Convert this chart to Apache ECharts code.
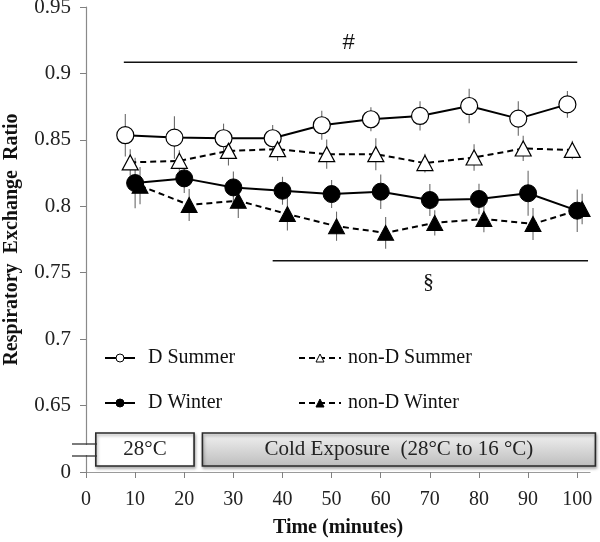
<!DOCTYPE html>
<html>
<head>
<meta charset="utf-8">
<script src="https://cdn.jsdelivr.net/npm/echarts@6/dist/echarts.min.js"></script>
<style>
html,body{margin:0;padding:0;background:#fff;}
#chart{width:600px;height:542px;}
</style>
</head>
<body>
<div id="chart"></div>
<script>
// ---- data ----
const xTickValues = [0, 10, 20, 30, 40, 50, 60, 70, 80, 90, 100];
const yTickLabels = ['0', '0.65', '0.7', '0.75', '0.8', '0.85', '0.9', '0.95'];

const dSummerX    = [8, 18, 28, 38, 48, 58, 68, 78, 88, 98];
const dSummerY    = [0.8535, 0.8517, 0.8512, 0.8512, 0.861, 0.8655, 0.868, 0.8755, 0.866, 0.8767];
const dSummerErr  = [0.016, 0.016, 0.011, 0.010, 0.011, 0.009, 0.011, 0.013, 0.013, 0.010];

const nonDSummerX   = [9, 19, 29, 39, 49, 59, 69, 79, 89, 99];
const nonDSummerY   = [0.833, 0.8342, 0.8417, 0.843, 0.8392, 0.8392, 0.8325, 0.8367, 0.8435, 0.8424];
const nonDSummerErr = [0.010, 0.008, 0.011, 0.009, 0.011, 0.012, 0.007, 0.010, 0.0095, 0.007];

const dWinterX   = [10, 20, 30, 40, 50, 60, 70, 80, 90, 100];
const dWinterY   = [0.8175, 0.821, 0.8142, 0.8117, 0.8092, 0.811, 0.8047, 0.8055, 0.8098, 0.7967];
const dWinterErr = [0.019, 0.011, 0.012, 0.0105, 0.0105, 0.013, 0.012, 0.0115, 0.017, 0.016];

const nonDWinterX   = [11, 21, 31, 41, 51, 61, 71, 81, 91, 101];
const nonDWinterY   = [0.8155, 0.801, 0.8042, 0.7942, 0.785, 0.780, 0.7875, 0.7905, 0.7867, 0.798];
const nonDWinterErr = [0.014, 0.012, 0.013, 0.0125, 0.011, 0.012, 0.0095, 0.010, 0.012, 0.0115];

const hashLine = [[7.7, 0.9085], [100, 0.9085]];
const sectLine = [[38, 0.759], [102.2, 0.759]];
const annotTexts = [[53.4, 0.9232, '#'], [69.7, 0.7432, '§']];

const phaseLabels = ['28°C', 'Cold Exposure  (28°C to 16 °C)'];
const phaseStart  = [2.0, 23.7];
const phaseEnd    = [22.0, 103.7];
const phaseLow    = 0.6045;
const phaseHigh   = 0.6293;

// ---- helpers ----
const FONT = "'Liberation Serif','Times New Roman',serif";
function pairs(xs, ys){ return xs.map((x,i)=>[x, ys[i]]); }
function errData(xs, ys, es){ return xs.map((x,i)=>[x, ys[i]-es[i], ys[i]+es[i]]); }

function renderErr(params, api){
  const x = api.value(0), lo = api.value(1), hi = api.value(2);
  const p1 = api.coord([x, lo]), p2 = api.coord([x, hi]);
  return {type:'line', shape:{x1:p1[0], y1:p1[1], x2:p2[0], y2:p2[1]},
          style:{stroke:'#6a6a6a', lineWidth:1.1}};
}
function errSeries(xs, ys, es){
  return {type:'custom', renderItem: renderErr, data: errData(xs, ys, es),
          encode:{x:0, y:[1,2]}, z:1, silent:true};
}

const phaseData = phaseLabels.map((l,i)=>[phaseStart[i], phaseEnd[i], phaseLow, phaseHigh, i]);

function renderPhase(params, api){
  const s = api.value(0), e = api.value(1), lo = api.value(2), hi = api.value(3);
  const idx = api.value(4);
  const label = phaseLabels[idx];
  const p1 = api.coord([s, hi]), p2 = api.coord([e, lo]);
  const fill = idx === 0 ? '#ffffff' : new echarts.graphic.LinearGradient(0,0,0,1,[
      {offset:0, color:'#f2f2f2'}, {offset:1, color:'#bdbdbd'}]);
  return {type:'group', children:[
    {type:'rect', shape:{x:p1[0], y:p1[1], width:p2[0]-p1[0], height:p2[1]-p1[1]},
     style:{fill: fill, stroke:'#2a2a2a', lineWidth:1.6,
            shadowBlur:3, shadowOffsetX:1, shadowOffsetY:2, shadowColor:'rgba(0,0,0,0.35)'}},
    {type:'text', style:{text: label, x:(p1[0]+p2[0])/2, y:(p1[1]+p2[1])/2,
     align:'center', verticalAlign:'middle', fill:'#222', font:"21px " + FONT}}
  ]};
}

function renderAnnot(params, api){
  const p = api.coord([api.value(0), api.value(1)]);
  const t = annotTexts[params.dataIndex][2];
  return {type:'text', style:{text:t, x:p[0], y:p[1], align:'center', verticalAlign:'middle',
          fill:'#111', font: (t === '#' ? "italic 22px 'Liberation Sans',Arial,sans-serif" : "22px " + FONT)}};
}

const chart = echarts.init(document.getElementById('chart'), null, {renderer:'canvas'});

const option = {
  animation:false,
  backgroundColor:'#fff',
  grid:{left:86, right:10, top:7, bottom:70, containLabel:false, outerBoundsMode:'none'},
  xAxis:{
    type:'value', min:0, max:102.6,
    name:'Time (minutes)', nameLocation:'middle', nameGap:46,
    nameTextStyle:{fontFamily:FONT, fontSize:20, fontWeight:'bold', color:'#111'},
    axisLine:{show:true, lineStyle:{color:'#9a9a9a', width:1.2}},
    axisTick:{show:true, inside:false, length:6, customValues:xTickValues, lineStyle:{color:'#808080'}},
    axisLabel:{customValues:xTickValues, margin:18, fontFamily:FONT, fontSize:20, color:'#222'},
    splitLine:{show:false}
  },
  yAxis:{
    type:'value', min:0.6, max:0.95, interval:0.05,
    name:'Respiratory  Exchange  Ratio', nameLocation:'middle', nameGap:64, nameRotate:90,
    nameTextStyle:{fontFamily:FONT, fontSize:20, fontWeight:'bold', color:'#111'},
    axisLine:{show:true, lineStyle:{color:'#8a8a8a', width:1.2}},
    axisTick:{show:true, length:6, lineStyle:{color:'#808080'}},
    axisLabel:{margin:15, fontFamily:FONT, fontSize:21, color:'#222',
      formatter:function(v){ return yTickLabels[Math.round((v-0.6)/0.05)]; }},
    splitLine:{show:false}
  },
  legend:[
    {orient:'vertical', left:99, top:341, itemWidth:30, itemHeight:10, itemGap:21,
     textStyle:{fontFamily:FONT, fontSize:20, color:'#111', lineHeight:24, padding:[0,0,0,8]},
     data:[
       {name:'D Summer', itemStyle:{color:'#fff', borderColor:'#000', borderWidth:1}},
       {name:'D Winter', itemStyle:{color:'#000', borderColor:'#000', borderWidth:1}}
     ]},
    {orient:'vertical', left:293, top:341, itemWidth:42, itemHeight:10, itemGap:21,
     textStyle:{fontFamily:FONT, fontSize:20, color:'#111', lineHeight:24, padding:[0,0,0,2]},
     data:[
       {name:'non-D Summer', itemStyle:{color:'#fff', borderColor:'#000', borderWidth:1}},
       {name:'non-D Winter', itemStyle:{color:'#000', borderColor:'#000', borderWidth:1}}
     ]}
  ],
  series:[
    {type:'custom', name:'phases', renderItem:renderPhase, data:phaseData,
     encode:{x:[0,1], y:[2,3]}, z:1, silent:true, clip:false},
    errSeries(dSummerX, dSummerY, dSummerErr),
    errSeries(nonDSummerX, nonDSummerY, nonDSummerErr),
    errSeries(dWinterX, dWinterY, dWinterErr),
    errSeries(nonDWinterX, nonDWinterY, nonDWinterErr),
    {type:'line', name:'hash', data:hashLine, symbol:'none', silent:true, z:2,
     lineStyle:{color:'#111', width:1.5}},
    {type:'line', name:'sect', data:sectLine, symbol:'none', silent:true, z:2,
     lineStyle:{color:'#111', width:1.5}},
    {type:'custom', name:'annot', renderItem:renderAnnot, data:annotTexts.map(a=>[a[0],a[1]]),
     encode:{x:0, y:1}, silent:true, z:3},
    {type:'line', name:'D Summer', data:pairs(dSummerX, dSummerY), z:4,
     symbol:'circle', symbolSize:17,
     lineStyle:{color:'#000', width:2, type:'solid'},
     itemStyle:{color:'#fff', borderColor:'#000', borderWidth:1.2}},
    {type:'line', name:'non-D Summer', data:pairs(nonDSummerX, nonDSummerY), z:5,
     symbol:'triangle', symbolSize:[16,15],
     lineStyle:{color:'#000', width:2, type:[6,4]},
     itemStyle:{color:'#fff', borderColor:'#000', borderWidth:1.2}},
    {type:'line', name:'D Winter', data:pairs(dWinterX, dWinterY), z:6,
     symbol:'circle', symbolSize:17,
     lineStyle:{color:'#000', width:2, type:'solid'},
     itemStyle:{color:'#000', borderColor:'#000', borderWidth:1}},
    {type:'line', name:'non-D Winter', data:pairs(nonDWinterX, nonDWinterY), z:7,
     symbol:'triangle', symbolSize:[16,15],
     lineStyle:{color:'#000', width:2, type:[6,4]},
     itemStyle:{color:'#000', borderColor:'#000', borderWidth:1}}
  ],
  graphic:[
    {type:'rect', shape:{x:83, y:445, width:6, height:10}, style:{fill:'#fff'}, z:100},
    {type:'line', shape:{x1:72, y1:444, x2:97, y2:444}, style:{stroke:'#333', lineWidth:1.3}, z:101},
    {type:'line', shape:{x1:72, y1:456, x2:97, y2:456}, style:{stroke:'#333', lineWidth:1.3}, z:101}
  ]
};
chart.setOption(option);
</script>
</body>
</html>
